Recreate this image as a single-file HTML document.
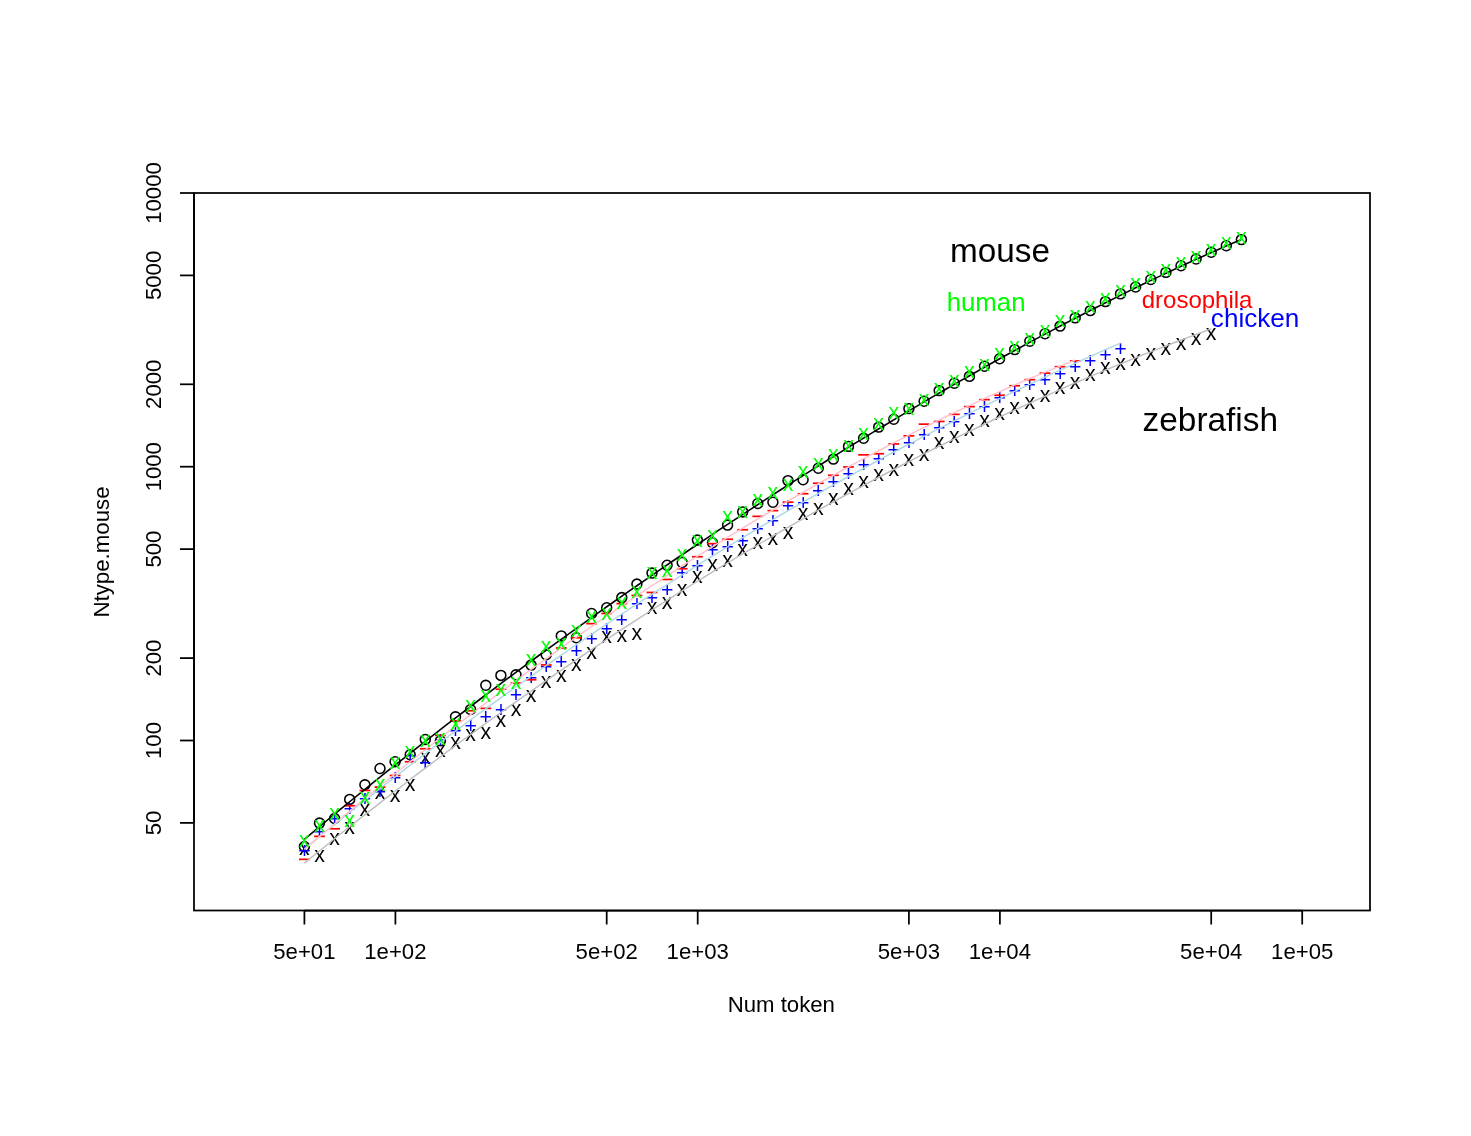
<!DOCTYPE html>
<html><head><meta charset="utf-8"><title>plot</title>
<style>
html,body{margin:0;padding:0;background:#fff;}
body{width:1471px;height:1136px;overflow:hidden;}
svg{display:block;will-change:transform;}
svg text{font-family:"Liberation Sans",sans-serif;}
</style></head><body>
<svg width="1471" height="1136" viewBox="0 0 1471 1136">
<rect x="0" y="0" width="1471" height="1136" fill="#ffffff"/>
<g fill="none" stroke="#000" stroke-width="1.55">
<circle cx="304.4" cy="846.5" r="4.95"/>
<circle cx="319.5" cy="823.1" r="4.95"/>
<circle cx="334.6" cy="818.5" r="4.95"/>
<circle cx="349.7" cy="799.4" r="4.95"/>
<circle cx="364.9" cy="784.8" r="4.95"/>
<circle cx="380.0" cy="768.5" r="4.95"/>
<circle cx="395.1" cy="761.7" r="4.95"/>
<circle cx="410.2" cy="754.7" r="4.95"/>
<circle cx="425.3" cy="739.4" r="4.95"/>
<circle cx="440.4" cy="740.8" r="4.95"/>
<circle cx="455.5" cy="716.8" r="4.95"/>
<circle cx="470.6" cy="709.5" r="4.95"/>
<circle cx="485.8" cy="685.3" r="4.95"/>
<circle cx="500.9" cy="675.4" r="4.95"/>
<circle cx="516.0" cy="674.8" r="4.95"/>
<circle cx="531.1" cy="665.1" r="4.95"/>
<circle cx="546.2" cy="654.8" r="4.95"/>
<circle cx="561.3" cy="635.9" r="4.95"/>
<circle cx="576.4" cy="637.7" r="4.95"/>
<circle cx="591.6" cy="613.5" r="4.95"/>
<circle cx="606.7" cy="607.7" r="4.95"/>
<circle cx="621.8" cy="597.6" r="4.95"/>
<circle cx="636.9" cy="584.1" r="4.95"/>
<circle cx="652.0" cy="573.1" r="4.95"/>
<circle cx="667.1" cy="565.2" r="4.95"/>
<circle cx="682.2" cy="562.5" r="4.95"/>
<circle cx="697.4" cy="540.1" r="4.95"/>
<circle cx="712.5" cy="542.7" r="4.95"/>
<circle cx="727.6" cy="525.1" r="4.95"/>
<circle cx="742.7" cy="511.9" r="4.95"/>
<circle cx="757.8" cy="503.5" r="4.95"/>
<circle cx="772.9" cy="502.2" r="4.95"/>
<circle cx="788.0" cy="480.6" r="4.95"/>
<circle cx="803.1" cy="479.7" r="4.95"/>
<circle cx="818.3" cy="468.3" r="4.95"/>
<circle cx="833.4" cy="459.1" r="4.95"/>
<circle cx="848.5" cy="446.4" r="4.95"/>
<circle cx="863.6" cy="438.2" r="4.95"/>
<circle cx="878.7" cy="427.1" r="4.95"/>
<circle cx="893.8" cy="419.2" r="4.95"/>
<circle cx="908.9" cy="408.6" r="4.95"/>
<circle cx="924.1" cy="401.2" r="4.95"/>
<circle cx="939.2" cy="390.6" r="4.95"/>
<circle cx="954.3" cy="383.2" r="4.95"/>
<circle cx="969.4" cy="376.4" r="4.95"/>
<circle cx="984.5" cy="366.2" r="4.95"/>
<circle cx="999.6" cy="358.8" r="4.95"/>
<circle cx="1014.7" cy="349.6" r="4.95"/>
<circle cx="1029.8" cy="341.2" r="4.95"/>
<circle cx="1045.0" cy="333.8" r="4.95"/>
<circle cx="1060.1" cy="326.1" r="4.95"/>
<circle cx="1075.2" cy="317.9" r="4.95"/>
<circle cx="1090.3" cy="310.6" r="4.95"/>
<circle cx="1105.4" cy="301.6" r="4.95"/>
<circle cx="1120.5" cy="293.9" r="4.95"/>
<circle cx="1135.6" cy="287.0" r="4.95"/>
<circle cx="1150.8" cy="279.5" r="4.95"/>
<circle cx="1165.9" cy="272.4" r="4.95"/>
<circle cx="1181.0" cy="265.7" r="4.95"/>
<circle cx="1196.1" cy="259.0" r="4.95"/>
<circle cx="1211.2" cy="252.3" r="4.95"/>
<circle cx="1226.3" cy="245.7" r="4.95"/>
<circle cx="1241.4" cy="239.6" r="4.95"/>
</g>
<g fill="#000" font-size="21.3px" text-anchor="middle">
<text x="304.4" y="854.9">x</text>
<text x="319.5" y="862.2">x</text>
<text x="334.6" y="844.9">x</text>
<text x="349.7" y="834.2">x</text>
<text x="364.9" y="815.8">x</text>
<text x="380.0" y="798.7">x</text>
<text x="395.1" y="802.0">x</text>
<text x="410.2" y="791.3">x</text>
<text x="425.3" y="763.7">x</text>
<text x="440.4" y="756.8">x</text>
<text x="455.5" y="749.2">x</text>
<text x="470.6" y="740.5">x</text>
<text x="485.8" y="739.0">x</text>
<text x="500.9" y="726.8">x</text>
<text x="516.0" y="716.0">x</text>
<text x="531.1" y="702.2">x</text>
<text x="546.2" y="687.5">x</text>
<text x="561.3" y="681.7">x</text>
<text x="576.4" y="671.2">x</text>
<text x="591.6" y="659.3">x</text>
<text x="606.7" y="642.7">x</text>
<text x="621.8" y="642.2">x</text>
<text x="636.9" y="640.0">x</text>
<text x="652.0" y="614.2">x</text>
<text x="667.1" y="608.6">x</text>
<text x="682.2" y="596.0">x</text>
<text x="697.4" y="582.6">x</text>
<text x="712.5" y="571.4">x</text>
<text x="727.6" y="566.7">x</text>
<text x="742.7" y="555.6">x</text>
<text x="757.8" y="549.0">x</text>
<text x="772.9" y="545.1">x</text>
<text x="788.0" y="538.8">x</text>
<text x="803.1" y="520.4">x</text>
<text x="818.3" y="514.9">x</text>
<text x="833.4" y="504.9">x</text>
<text x="848.5" y="494.7">x</text>
<text x="863.6" y="487.7">x</text>
<text x="878.7" y="480.8">x</text>
<text x="893.8" y="475.6">x</text>
<text x="908.9" y="465.5">x</text>
<text x="924.1" y="460.8">x</text>
<text x="939.2" y="448.6">x</text>
<text x="954.3" y="443.3">x</text>
<text x="969.4" y="436.0">x</text>
<text x="984.5" y="426.6">x</text>
<text x="999.6" y="420.2">x</text>
<text x="1014.7" y="413.9">x</text>
<text x="1029.8" y="408.9">x</text>
<text x="1045.0" y="401.7">x</text>
<text x="1060.1" y="393.8">x</text>
<text x="1075.2" y="389.3">x</text>
<text x="1090.3" y="380.5">x</text>
<text x="1105.4" y="374.2">x</text>
<text x="1120.5" y="369.8">x</text>
<text x="1135.6" y="365.9">x</text>
<text x="1150.8" y="360.4">x</text>
<text x="1165.9" y="354.5">x</text>
<text x="1181.0" y="349.8">x</text>
<text x="1196.1" y="344.9">x</text>
<text x="1211.2" y="340.1">x</text>
</g>
<g fill="#0000ff" font-size="21.3px" text-anchor="middle">
<text x="304.4" y="858.2">+</text>
<text x="319.5" y="839.4">+</text>
<text x="334.6" y="826.2">+</text>
<text x="349.7" y="815.9">+</text>
<text x="364.9" y="805.8">+</text>
<text x="380.0" y="799.2">+</text>
<text x="395.1" y="784.8">+</text>
<text x="410.2" y="763.3">+</text>
<text x="425.3" y="770.1">+</text>
<text x="440.4" y="746.8">+</text>
<text x="455.5" y="738.4">+</text>
<text x="470.6" y="733.4">+</text>
<text x="485.8" y="723.8">+</text>
<text x="500.9" y="717.2">+</text>
<text x="516.0" y="701.5">+</text>
<text x="531.1" y="684.6">+</text>
<text x="546.2" y="673.5">+</text>
<text x="561.3" y="668.7">+</text>
<text x="576.4" y="657.7">+</text>
<text x="591.6" y="645.8">+</text>
<text x="606.7" y="636.4">+</text>
<text x="621.8" y="626.6">+</text>
<text x="636.9" y="611.3">+</text>
<text x="652.0" y="605.0">+</text>
<text x="667.1" y="597.3">+</text>
<text x="682.2" y="580.3">+</text>
<text x="697.4" y="573.3">+</text>
<text x="712.5" y="556.6">+</text>
<text x="727.6" y="553.5">+</text>
<text x="742.7" y="547.9">+</text>
<text x="757.8" y="535.9">+</text>
<text x="772.9" y="527.9">+</text>
<text x="788.0" y="512.9">+</text>
<text x="803.1" y="510.3">+</text>
<text x="818.3" y="498.0">+</text>
<text x="833.4" y="489.2">+</text>
<text x="848.5" y="480.8">+</text>
<text x="863.6" y="471.8">+</text>
<text x="878.7" y="466.0">+</text>
<text x="893.8" y="456.5">+</text>
<text x="908.9" y="449.9">+</text>
<text x="924.1" y="442.2">+</text>
<text x="939.2" y="434.8">+</text>
<text x="954.3" y="429.0">+</text>
<text x="969.4" y="420.7">+</text>
<text x="984.5" y="413.6">+</text>
<text x="999.6" y="404.7">+</text>
<text x="1014.7" y="398.1">+</text>
<text x="1029.8" y="392.0">+</text>
<text x="1045.0" y="386.6">+</text>
<text x="1060.1" y="380.6">+</text>
<text x="1075.2" y="373.8">+</text>
<text x="1090.3" y="367.5">+</text>
<text x="1105.4" y="361.9">+</text>
<text x="1120.5" y="356.0">+</text>
</g>
<g fill="#ff0000">
<rect x="299.0" y="858.5" width="10.8" height="1.7"/>
<rect x="314.1" y="835.5" width="10.8" height="1.7"/>
<rect x="329.2" y="827.9" width="10.8" height="1.7"/>
<rect x="344.3" y="804.9" width="10.8" height="1.7"/>
<rect x="359.5" y="789.6" width="10.8" height="1.7"/>
<rect x="374.6" y="786.2" width="10.8" height="1.7"/>
<rect x="389.7" y="774.6" width="10.8" height="1.7"/>
<rect x="404.8" y="760.9" width="10.8" height="1.7"/>
<rect x="419.9" y="747.9" width="10.8" height="1.7"/>
<rect x="435.0" y="734.5" width="10.8" height="1.7"/>
<rect x="450.1" y="719.9" width="10.8" height="1.7"/>
<rect x="465.2" y="709.9" width="10.8" height="1.7"/>
<rect x="480.4" y="707.5" width="10.8" height="1.7"/>
<rect x="495.5" y="688.4" width="10.8" height="1.7"/>
<rect x="510.6" y="682.2" width="10.8" height="1.7"/>
<rect x="525.7" y="678.9" width="10.8" height="1.7"/>
<rect x="540.8" y="664.1" width="10.8" height="1.7"/>
<rect x="555.9" y="647.1" width="10.8" height="1.7"/>
<rect x="571.0" y="636.9" width="10.8" height="1.7"/>
<rect x="586.2" y="622.8" width="10.8" height="1.7"/>
<rect x="601.3" y="612.6" width="10.8" height="1.7"/>
<rect x="616.4" y="602.8" width="10.8" height="1.7"/>
<rect x="631.5" y="594.6" width="10.8" height="1.7"/>
<rect x="646.6" y="591.6" width="10.8" height="1.7"/>
<rect x="661.7" y="578.6" width="10.8" height="1.7"/>
<rect x="676.8" y="567.9" width="10.8" height="1.7"/>
<rect x="692.0" y="555.9" width="10.8" height="1.7"/>
<rect x="707.1" y="542.8" width="10.8" height="1.7"/>
<rect x="722.2" y="538.4" width="10.8" height="1.7"/>
<rect x="737.3" y="528.9" width="10.8" height="1.7"/>
<rect x="752.4" y="515.5" width="10.8" height="1.7"/>
<rect x="767.5" y="509.8" width="10.8" height="1.7"/>
<rect x="782.6" y="501.3" width="10.8" height="1.7"/>
<rect x="797.7" y="492.9" width="10.8" height="1.7"/>
<rect x="812.9" y="482.4" width="10.8" height="1.7"/>
<rect x="828.0" y="474.4" width="10.8" height="1.7"/>
<rect x="843.1" y="466.1" width="10.8" height="1.7"/>
<rect x="858.2" y="454.0" width="10.8" height="1.7"/>
<rect x="873.3" y="452.9" width="10.8" height="1.7"/>
<rect x="888.4" y="443.1" width="10.8" height="1.7"/>
<rect x="903.5" y="435.0" width="10.8" height="1.7"/>
<rect x="918.7" y="423.3" width="10.8" height="1.7"/>
<rect x="933.8" y="420.6" width="10.8" height="1.7"/>
<rect x="948.9" y="413.5" width="10.8" height="1.7"/>
<rect x="964.0" y="405.8" width="10.8" height="1.7"/>
<rect x="979.1" y="398.8" width="10.8" height="1.7"/>
<rect x="994.2" y="394.4" width="10.8" height="1.7"/>
<rect x="1009.3" y="384.9" width="10.8" height="1.7"/>
<rect x="1024.4" y="378.8" width="10.8" height="1.7"/>
<rect x="1039.6" y="372.3" width="10.8" height="1.7"/>
<rect x="1054.7" y="365.9" width="10.8" height="1.7"/>
<rect x="1069.8" y="360.1" width="10.8" height="1.7"/>
</g>
<path d="M304.4 839.4 L316.3 829.4 L328.1 819.5 L340.0 809.7 L351.8 800.0 L363.7 790.3 L375.6 780.7 L387.4 771.2 L399.3 761.8 L411.2 752.4 L423.0 743.1 L434.9 733.9 L446.7 724.7 L458.6 715.6 L470.5 706.5 L482.3 697.5 L494.2 688.6 L506.0 679.7 L517.9 670.9 L529.8 662.2 L541.6 653.5 L553.5 644.8 L565.3 636.3 L577.2 627.8 L589.1 619.3 L600.9 610.9 L612.8 602.5 L624.7 594.2 L636.5 586.0 L648.4 577.8 L660.2 569.6 L672.1 561.5 L684.0 553.5 L695.8 545.5 L707.7 537.6 L719.5 529.7 L731.4 521.8 L743.3 514.1 L755.1 506.3 L767.0 498.6 L778.8 491.0 L790.7 483.4 L802.6 475.9 L814.4 468.4 L826.3 461.0 L838.2 453.6 L850.0 446.3 L861.9 439.1 L873.7 431.9 L885.6 424.7 L897.5 417.6 L909.3 410.6 L921.2 403.6 L933.0 396.6 L944.9 389.8 L956.8 382.9 L968.6 376.2 L980.5 369.5 L992.4 362.8 L1004.2 356.3 L1016.1 349.8 L1027.9 343.3 L1039.8 336.9 L1051.7 330.6 L1063.5 324.3 L1075.4 318.2 L1087.2 312.0 L1099.1 306.0 L1111.0 300.0 L1122.8 294.1 L1134.7 288.3 L1146.5 282.5 L1158.4 276.9 L1170.3 271.3 L1182.1 265.8 L1194.0 260.3 L1205.9 255.0 L1217.7 249.7 L1229.6 244.5 L1241.4 239.4" fill="none" stroke="#000" stroke-width="1.6" stroke-linejoin="round"/>
<path d="M304.4 863.1 L315.9 853.8 L327.4 844.5 L338.8 835.3 L350.3 826.1 L361.8 817.1 L373.3 808.1 L384.8 799.1 L396.2 790.3 L407.7 781.5 L419.2 772.7 L430.7 764.1 L442.1 755.5 L453.6 746.9 L465.1 738.5 L476.6 730.1 L488.1 721.7 L499.5 713.5 L511.0 705.3 L522.5 697.1 L534.0 689.1 L545.5 681.1 L556.9 673.1 L568.4 665.3 L579.9 657.4 L591.4 649.7 L602.8 642.0 L614.3 634.4 L625.8 626.9 L637.3 619.4 L648.8 612.0 L660.2 604.7 L671.7 597.4 L683.2 590.2 L694.7 583.0 L706.2 575.9 L717.6 568.9 L729.1 562.0 L740.6 555.1 L752.1 548.3 L763.5 541.5 L775.0 534.8 L786.5 528.2 L798.0 521.6 L809.5 515.1 L820.9 508.7 L832.4 502.3 L843.9 496.0 L855.4 489.8 L866.9 483.6 L878.3 477.5 L889.8 471.5 L901.3 465.5 L912.8 459.6 L924.2 453.7 L935.7 448.0 L947.2 442.3 L958.7 436.6 L970.2 431.0 L981.6 425.5 L993.1 420.0 L1004.6 414.7 L1016.1 409.3 L1027.6 404.1 L1039.0 398.9 L1050.5 393.8 L1062.0 388.7 L1073.5 383.7 L1084.9 378.8 L1096.4 373.9 L1107.9 369.1 L1119.4 364.4 L1130.9 359.7 L1142.3 355.1 L1153.8 350.6 L1165.3 346.1 L1176.8 341.7 L1188.3 337.4 L1199.7 333.1 L1211.2 328.9" fill="none" stroke="#bebebe" stroke-width="1.45" stroke-linejoin="round"/>
<path d="M304.4 848.7 L314.7 840.3 L325.1 832.0 L335.4 823.7 L345.7 815.5 L356.1 807.3 L366.4 799.2 L376.7 791.1 L387.0 783.0 L397.4 775.1 L407.7 767.1 L418.0 759.2 L428.4 751.4 L438.7 743.6 L449.0 735.9 L459.4 728.2 L469.7 720.5 L480.0 712.9 L490.4 705.4 L500.7 697.9 L511.0 690.5 L521.3 683.1 L531.7 675.8 L542.0 668.5 L552.3 661.3 L562.7 654.1 L573.0 647.0 L583.3 639.9 L593.7 632.9 L604.0 625.9 L614.3 619.0 L624.7 612.2 L635.0 605.4 L645.3 598.6 L655.6 591.9 L666.0 585.3 L676.3 578.7 L686.6 572.1 L697.0 565.7 L707.3 559.2 L717.6 552.9 L728.0 546.5 L738.3 540.3 L748.6 534.1 L759.0 527.9 L769.3 521.8 L779.6 515.7 L789.9 509.7 L800.3 503.7 L810.6 497.8 L820.9 492.0 L831.3 486.2 L841.6 480.4 L851.9 474.7 L862.3 469.1 L872.6 463.5 L882.9 457.9 L893.3 452.4 L903.6 447.0 L913.9 441.6 L924.2 436.2 L934.6 430.9 L944.9 425.7 L955.2 420.5 L965.6 415.3 L975.9 410.2 L986.2 405.1 L996.6 400.1 L1006.9 395.1 L1017.2 390.2 L1027.6 385.3 L1037.9 380.4 L1048.2 375.6 L1058.5 370.9 L1068.9 366.1 L1079.2 361.4 L1089.5 356.8 L1099.9 352.2 L1110.2 347.6 L1120.5 343.1" fill="none" stroke="#add8e6" stroke-width="1.45" stroke-linejoin="round"/>
<path d="M304.4 849.5 L314.2 841.1 L323.9 832.7 L333.7 824.5 L343.4 816.3 L353.2 808.1 L362.9 800.0 L372.7 792.0 L382.5 784.0 L392.2 776.1 L402.0 768.2 L411.7 760.4 L421.5 752.7 L431.2 745.0 L441.0 737.4 L450.8 729.8 L460.5 722.3 L470.3 714.8 L480.0 707.4 L489.8 700.1 L499.5 692.8 L509.3 685.5 L519.0 678.3 L528.8 671.2 L538.6 664.1 L548.3 657.1 L558.1 650.1 L567.8 643.2 L577.6 636.3 L587.3 629.5 L597.1 622.7 L606.9 616.0 L616.6 609.4 L626.4 602.8 L636.1 596.2 L645.9 589.7 L655.6 583.3 L665.4 576.9 L675.2 570.5 L684.9 564.2 L694.7 558.0 L704.4 551.8 L714.2 545.7 L723.9 539.6 L733.7 533.6 L743.5 527.6 L753.2 521.7 L763.0 515.9 L772.7 510.1 L782.5 504.3 L792.2 498.6 L802.0 493.0 L811.8 487.4 L821.5 481.9 L831.3 476.5 L841.0 471.0 L850.8 465.7 L860.5 460.4 L870.3 455.2 L880.1 450.0 L889.8 444.9 L899.6 439.9 L909.3 434.9 L919.1 429.9 L928.8 425.1 L938.6 420.3 L948.3 415.5 L958.1 410.9 L967.9 406.3 L977.6 401.7 L987.4 397.2 L997.1 392.8 L1006.9 388.5 L1016.6 384.2 L1026.4 380.0 L1036.2 375.9 L1045.9 371.8 L1055.7 367.8 L1065.4 363.9 L1075.2 360.0" fill="none" stroke="#ffc0cb" stroke-width="1.45" stroke-linejoin="round"/>
<g fill="#00ff00" font-size="21.3px" text-anchor="middle">
<text x="304.4" y="847.0">x</text>
<text x="319.5" y="832.2">x</text>
<text x="334.6" y="819.9">x</text>
<text x="349.7" y="827.2">x</text>
<text x="364.9" y="803.8">x</text>
<text x="380.0" y="791.1">x</text>
<text x="395.1" y="769.1">x</text>
<text x="410.2" y="758.4">x</text>
<text x="425.3" y="746.6">x</text>
<text x="440.4" y="744.8">x</text>
<text x="455.5" y="730.4">x</text>
<text x="470.6" y="712.0">x</text>
<text x="485.8" y="701.5">x</text>
<text x="500.9" y="696.3">x</text>
<text x="516.0" y="688.5">x</text>
<text x="531.1" y="665.7">x</text>
<text x="546.2" y="652.5">x</text>
<text x="561.3" y="649.8">x</text>
<text x="576.4" y="636.6">x</text>
<text x="591.6" y="623.0">x</text>
<text x="606.7" y="619.9">x</text>
<text x="621.8" y="609.3">x</text>
<text x="636.9" y="597.6">x</text>
<text x="652.0" y="579.2">x</text>
<text x="667.1" y="576.9">x</text>
<text x="682.2" y="561.0">x</text>
<text x="697.4" y="546.5">x</text>
<text x="712.5" y="542.1">x</text>
<text x="727.6" y="523.2">x</text>
<text x="742.7" y="517.9">x</text>
<text x="757.8" y="506.0">x</text>
<text x="772.9" y="499.0">x</text>
<text x="788.0" y="490.6">x</text>
<text x="803.1" y="477.8">x</text>
<text x="818.3" y="469.9">x</text>
<text x="833.4" y="460.7">x</text>
<text x="848.5" y="452.0">x</text>
<text x="863.6" y="440.0">x</text>
<text x="878.7" y="429.9">x</text>
<text x="893.8" y="418.8">x</text>
<text x="908.9" y="414.6">x</text>
<text x="924.1" y="405.6">x</text>
<text x="939.2" y="394.5">x</text>
<text x="954.3" y="387.1">x</text>
<text x="969.4" y="377.5">x</text>
<text x="984.5" y="371.2">x</text>
<text x="999.6" y="360.3">x</text>
<text x="1014.7" y="353.1">x</text>
<text x="1029.8" y="345.0">x</text>
<text x="1045.0" y="337.1">x</text>
<text x="1060.1" y="326.8">x</text>
<text x="1075.2" y="321.6">x</text>
<text x="1090.3" y="312.6">x</text>
<text x="1105.4" y="304.9">x</text>
<text x="1120.5" y="297.1">x</text>
<text x="1135.6" y="290.0">x</text>
<text x="1150.8" y="282.9">x</text>
<text x="1165.9" y="275.8">x</text>
<text x="1181.0" y="268.8">x</text>
<text x="1196.1" y="262.6">x</text>
<text x="1211.2" y="255.9">x</text>
<text x="1226.3" y="249.4">x</text>
<text x="1241.4" y="243.6">x</text>
</g>
<g fill="none" stroke="#000" stroke-width="1.75" stroke-linecap="butt">
<rect x="194" y="193" width="1176" height="717.5"/>
<path d="M304.4 910.5 H1302.2"/>
<path d="M304.4 910.5 v14"/>
<path d="M395.4 910.5 v14"/>
<path d="M606.7 910.5 v14"/>
<path d="M697.7 910.5 v14"/>
<path d="M908.9 910.5 v14"/>
<path d="M999.9 910.5 v14"/>
<path d="M1211.2 910.5 v14"/>
<path d="M1302.2 910.5 v14"/>
<path d="M194 822.9 V193.0"/>
<path d="M194 822.9 h-14"/>
<path d="M194 740.5 h-14"/>
<path d="M194 658.1 h-14"/>
<path d="M194 549.1 h-14"/>
<path d="M194 466.7 h-14"/>
<path d="M194 384.3 h-14"/>
<path d="M194 275.4 h-14"/>
<path d="M194 193.0 h-14"/>
</g>
<g fill="#000" font-size="22.15px" text-anchor="middle">
<text x="304.4" y="958.5">5e+01</text>
<text x="395.4" y="958.5">1e+02</text>
<text x="606.7" y="958.5">5e+02</text>
<text x="697.7" y="958.5">1e+03</text>
<text x="908.9" y="958.5">5e+03</text>
<text x="999.9" y="958.5">1e+04</text>
<text x="1211.2" y="958.5">5e+04</text>
<text x="1302.2" y="958.5">1e+05</text>
<text transform="translate(161.2 822.9) rotate(-90)">50</text>
<text transform="translate(161.2 740.5) rotate(-90)">100</text>
<text transform="translate(161.2 658.1) rotate(-90)">200</text>
<text transform="translate(161.2 549.1) rotate(-90)">500</text>
<text transform="translate(161.2 466.7) rotate(-90)">1000</text>
<text transform="translate(161.2 384.3) rotate(-90)">2000</text>
<text transform="translate(161.2 275.4) rotate(-90)">5000</text>
<text transform="translate(161.2 193.0) rotate(-90)">10000</text>
<text x="781.3" y="1011.7" font-size="22.2px">Num token</text>
<text transform="translate(108.6 552) rotate(-90)" font-size="22.25px">Ntype.mouse</text>
</g>
<text x="1000" y="262.3" font-size="33.3px" text-anchor="middle" fill="#000">mouse</text>
<text x="986.1" y="310.7" font-size="25.8px" text-anchor="middle" fill="#00ff00">human</text>
<text x="1197.1" y="307.5" font-size="24px" text-anchor="middle" fill="#ff0000">drosophila</text>
<text x="1255.1" y="326.6" font-size="26.1px" text-anchor="middle" fill="#0000ff">chicken</text>
<text x="1210.3" y="430.5" font-size="33.4px" text-anchor="middle" fill="#000">zebrafish</text>
</svg></body></html>
